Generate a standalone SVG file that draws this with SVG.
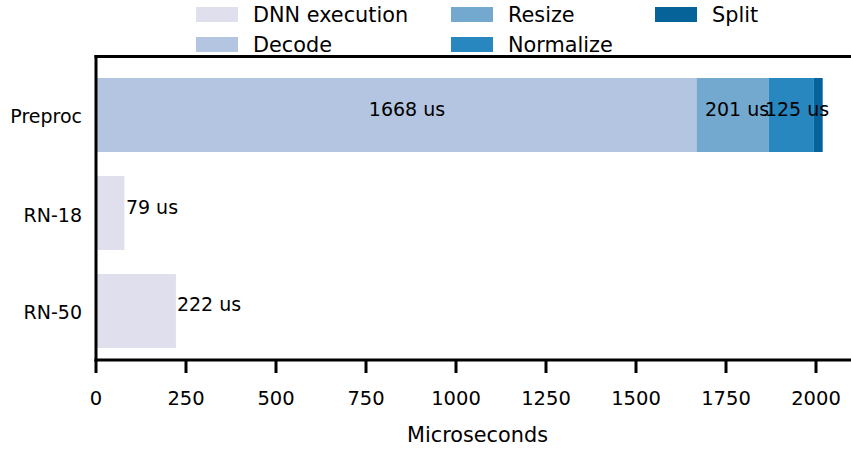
<svg xmlns="http://www.w3.org/2000/svg" width="851" height="449" viewBox="0 0 851 449">
  <style>
    text { font-family: "DejaVu Sans", "Liberation Sans", sans-serif; font-size: 19px; fill: #000; }
    .big { font-size: 20.8px; }
    .tl { font-size: 19.5px; }
    .spine { stroke: #000; stroke-width: 3; fill: none; stroke-linecap: square; }
    .tick { stroke: #000; stroke-width: 3; }
    .dnn { fill: #dfdfee; }
    .decode { fill: #b3c5e0; }
    .resize { fill: #74a9cf; }
    .normalize { fill: #2887be; }
    .split { fill: #05639a; }
    .ylab { text-anchor: end; }
    .mid { text-anchor: middle; }
  </style>

  <rect width="851" height="449" fill="#fff"/>

  <!-- Legend -->
  <g id="legend">
    <rect class="dnn" x="196" y="7" width="42" height="15"/>
    <text class="big" x="253" y="22">DNN execution</text>
    <rect class="decode" x="196" y="37" width="42" height="15"/>
    <text class="big" x="253" y="52">Decode</text>
    <rect class="resize" x="451" y="7" width="42" height="15"/>
    <text class="big" x="508" y="22">Resize</text>
    <rect class="normalize" x="451" y="37" width="42" height="15"/>
    <text class="big" x="508" y="52">Normalize</text>
    <rect class="split" x="655" y="7" width="42" height="15"/>
    <text class="big" x="712" y="22">Split</text>
  </g>

  <!-- Stacked bars: 0.36 px per microsecond, origin at x=96 -->
  <g id="bar-preproc">
    <rect class="decode" x="96" y="78" width="600.5" height="74"/>
    <rect class="resize" x="696.5" y="78" width="72.4" height="74"/>
    <rect class="normalize" x="768.9" y="78" width="45" height="74"/>
    <rect class="split" x="813.9" y="78" width="8.8" height="74"/>
    <text class="mid" x="407" y="115.5">1668 us</text>
    <text class="mid" x="737" y="115.5">201 us</text>
    <text class="mid" x="797" y="115.5">125 us</text>
  </g>
  <g id="bar-rn18">
    <rect class="dnn" x="96" y="176" width="28.4" height="74"/>
    <text class="mid" x="152" y="213.5">79 us</text>
  </g>
  <g id="bar-rn50">
    <rect class="dnn" x="96" y="274" width="79.9" height="74"/>
    <text class="mid" x="209" y="311">222 us</text>
  </g>

  <!-- Category labels -->
  <g id="y-axis">
    <text class="ylab" x="82" y="123">Preproc</text>
    <text class="ylab" x="82" y="221.5">RN-18</text>
    <text class="ylab" x="82" y="318.5">RN-50</text>
  </g>

  <!-- Axes frame -->
  <g id="axes">
    <line class="spine" x1="96" y1="56.5" x2="851" y2="56.5"/>
    <line class="spine" x1="96" y1="56.5" x2="96" y2="360"/>
    <line class="spine" x1="96" y1="360" x2="851" y2="360"/>
  </g>

  <!-- X ticks -->
  <g id="x-axis">
    <g class="tick">
      <line x1="96" y1="360" x2="96" y2="373"/>
      <line x1="186" y1="360" x2="186" y2="373"/>
      <line x1="276" y1="360" x2="276" y2="373"/>
      <line x1="366" y1="360" x2="366" y2="373"/>
      <line x1="456" y1="360" x2="456" y2="373"/>
      <line x1="546" y1="360" x2="546" y2="373"/>
      <line x1="636" y1="360" x2="636" y2="373"/>
      <line x1="726" y1="360" x2="726" y2="373"/>
      <line x1="816" y1="360" x2="816" y2="373"/>
    </g>
    <text class="mid tl" x="96" y="404.5">0</text>
    <text class="mid tl" x="186" y="404.5">250</text>
    <text class="mid tl" x="276" y="404.5">500</text>
    <text class="mid tl" x="366" y="404.5">750</text>
    <text class="mid tl" x="456" y="404.5">1000</text>
    <text class="mid tl" x="546" y="404.5">1250</text>
    <text class="mid tl" x="636" y="404.5">1500</text>
    <text class="mid tl" x="726" y="404.5">1750</text>
    <text class="mid tl" x="816" y="404.5">2000</text>
    <text class="mid big" x="477.5" y="442">Microseconds</text>
  </g>
</svg>
